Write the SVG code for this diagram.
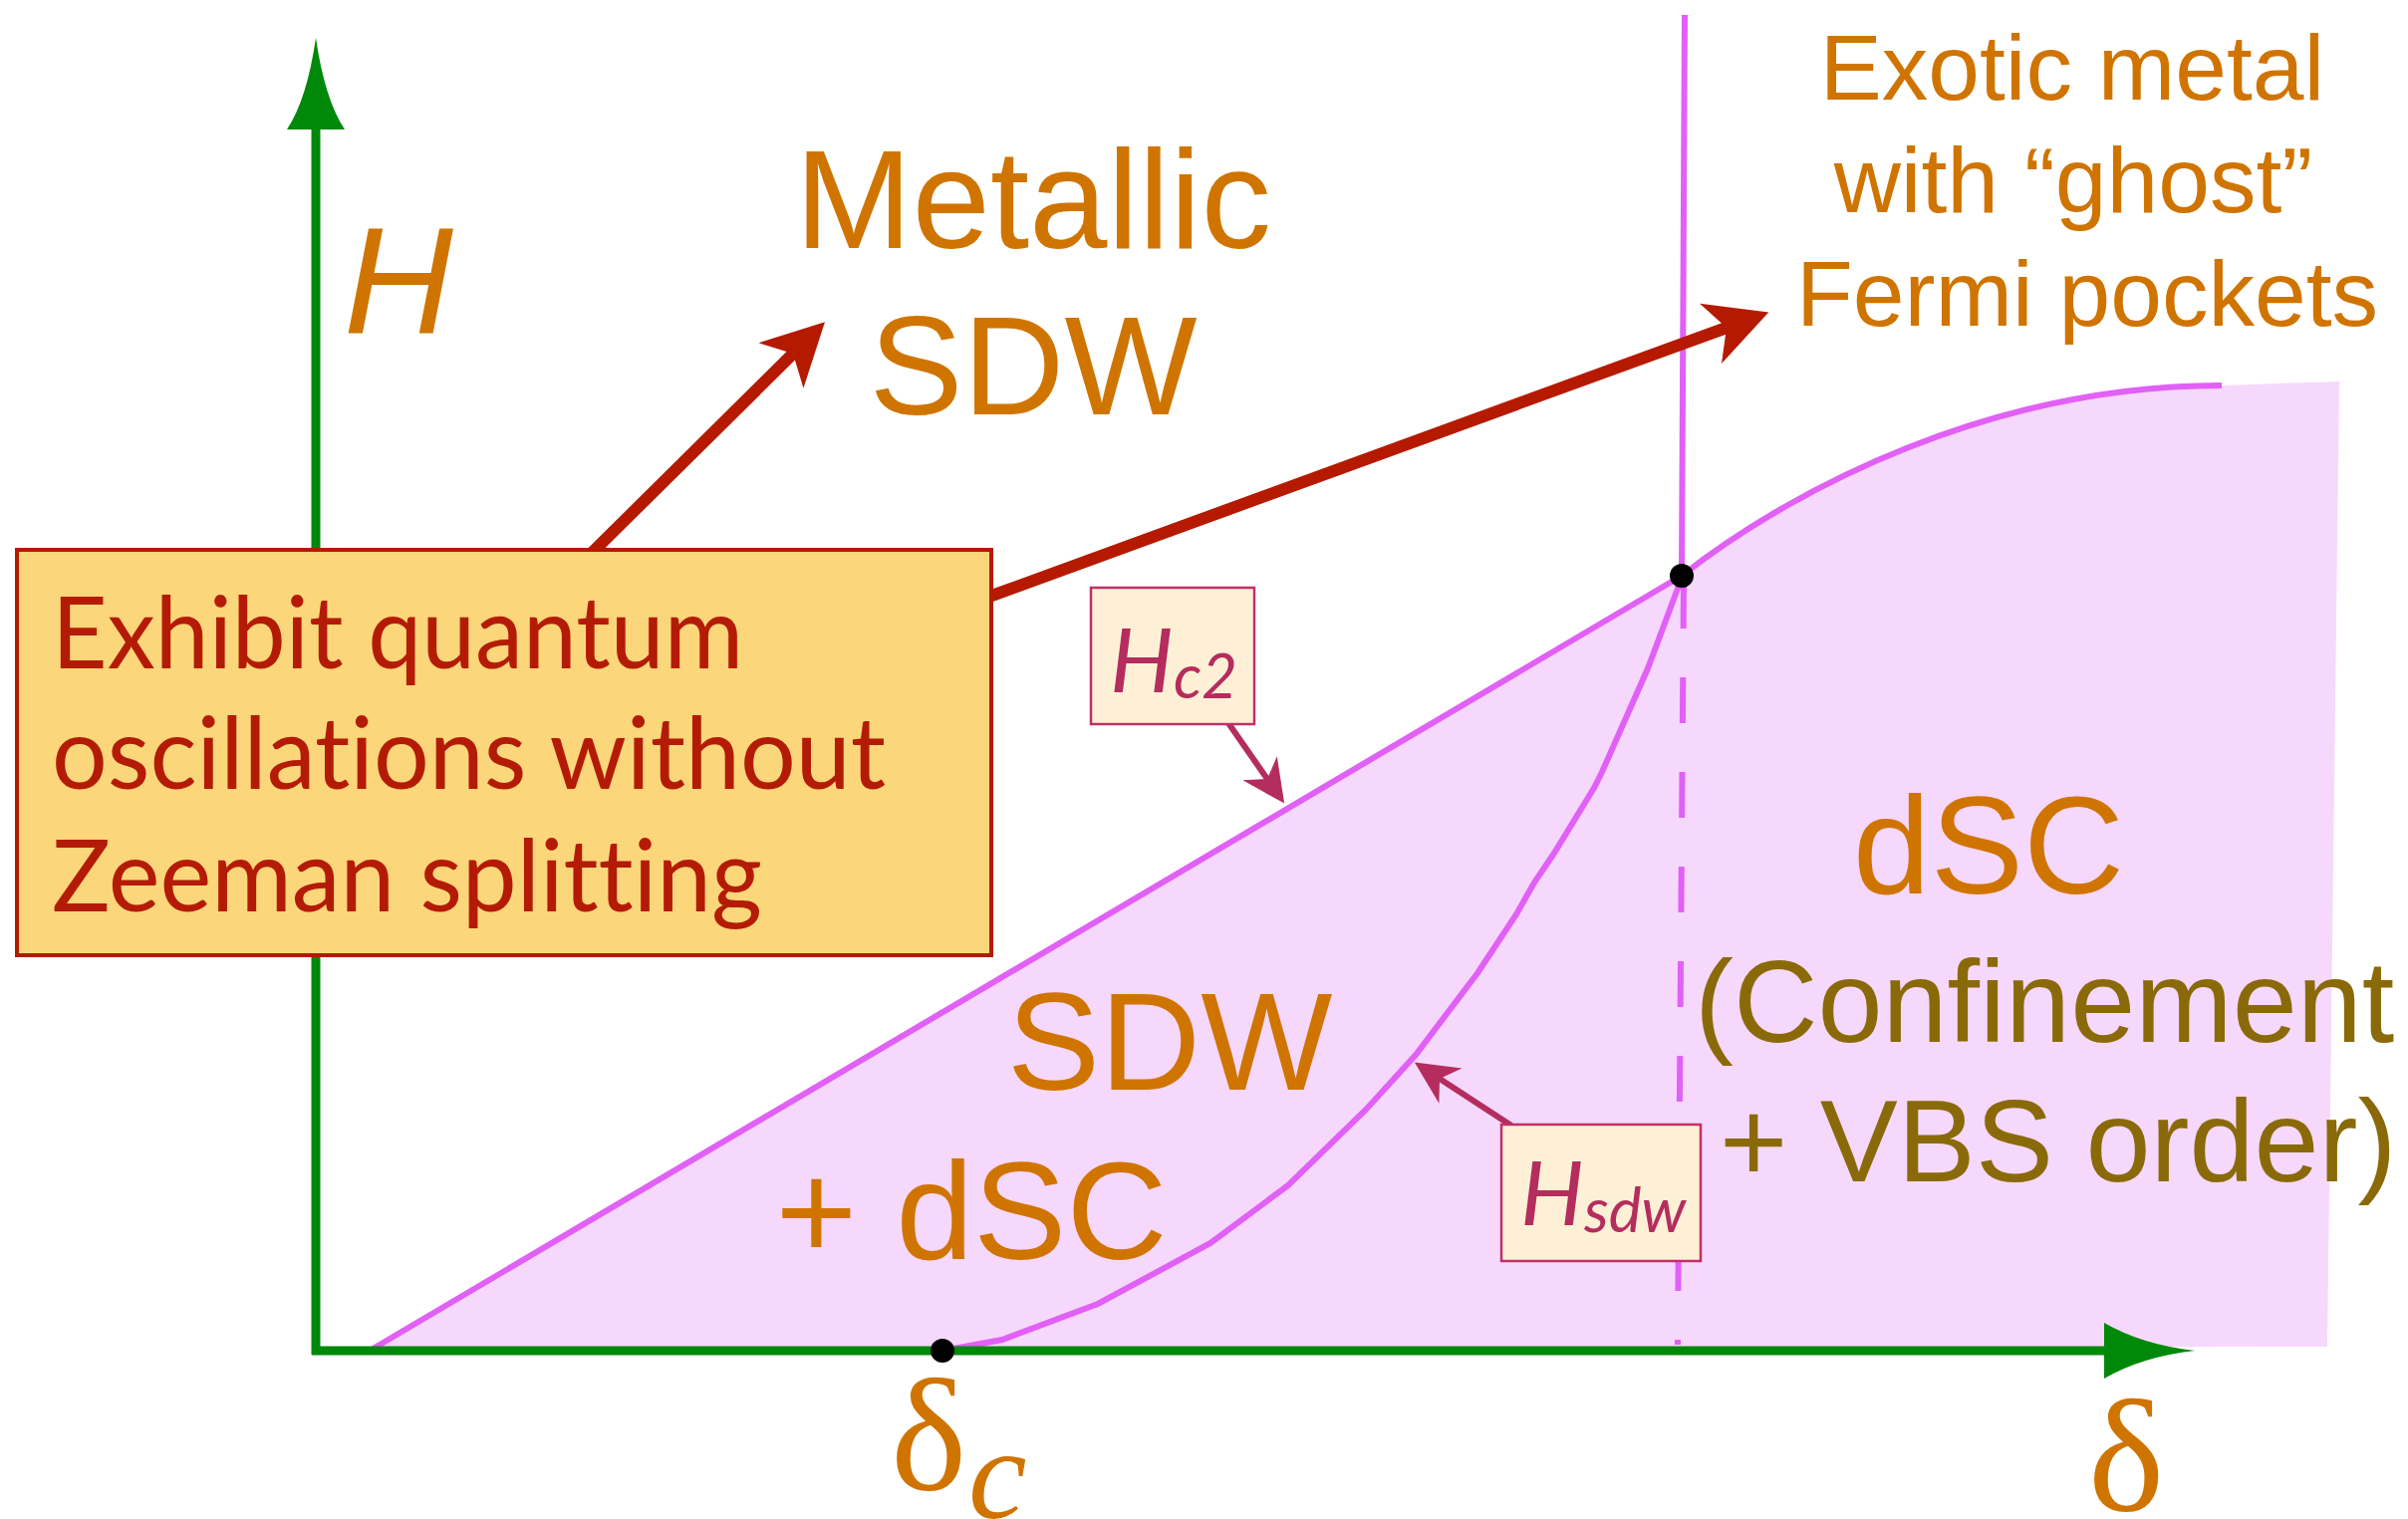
<svg xmlns="http://www.w3.org/2000/svg" width="2417" height="1525" viewBox="0 0 2417 1525">
<style>
.lbl{font-family:"Liberation Sans",Arial,sans-serif;fill:#D07400}
.olive{font-family:"Liberation Sans",Arial,sans-serif;fill:#8A6A08}
.gill{font-family:Lato,"Open Sans",sans-serif;fill:#B41B07;font-variant-ligatures:none}
.hl{font-family:Lato,"Open Sans",sans-serif;font-style:italic;fill:#B42D5E;font-variant-ligatures:none}
.pink{fill:none;stroke:#E160F6;stroke-width:6}
.axis{stroke:#00880A;stroke-width:9;fill:none}
.red{stroke:#B51A00;stroke-width:12;fill:none}
.rasp{stroke:#B42D5E;stroke-width:6;fill:none}
.dot{fill:#000}
.greek{font-family:"Liberation Serif","DejaVu Serif",serif;fill:#D07400}
</style>
<defs>
<marker id="redHead" markerUnits="userSpaceOnUse" viewBox="-20 -40 80 80" markerWidth="80" markerHeight="80" refX="0" refY="0" orient="auto">
<path d="M45,0 L-17,-32 L0,0 L-17,32 Z" fill="#B51A00"/>
</marker>
<marker id="raspHead" markerUnits="userSpaceOnUse" viewBox="-20 -30 60 60" markerWidth="60" markerHeight="60" refX="0" refY="0" orient="auto">
<path d="M30,0 L-13,-21 L0,0 L-13,21 Z" fill="#B42D5E"/>
</marker>
</defs>
<rect width="2417" height="1525" fill="#fff"/>

<g id="regions">
<path d="M371,1356 L1688,578 C1800,490 2000,387 2230,387 L2348,383 L2336,1352 L371,1356 Z" fill="#F6D8FC"/>
</g>

<g id="connectors">
<line class="pink" x1="371" y1="1356" x2="1688" y2="578"/>
<path class="pink" d="M1688,578 C1800,490 2000,387 2230,387" stroke-width="7"/>
<polyline class="pink" points="946,1356 1006,1345 1102,1309 1215,1248 1293,1190 1371,1114 1421,1059 1483,977 1522,918 1540,886 1559,858 1600,791 1608,775 1654,671 1688,580"/>
<line class="pink" x1="1691" y1="15" x2="1688" y2="578"/>
<line class="pink" x1="1690" y1="585" x2="1684" y2="1350" stroke-width="7" stroke-dasharray="46 49"/>
<line class="axis" x1="317" y1="125" x2="317" y2="1360"/>
<line class="axis" x1="313" y1="1356" x2="2115" y2="1356"/>
<path d="M288,130 Q308,100 317,38 Q326,100 346,130 Z" fill="#00880A"/>
<path d="M2112,1328 Q2150,1350 2203,1356 Q2150,1362 2112,1384 Z" fill="#00880A"/>
<line class="red" x1="590" y1="559" x2="796" y2="355" marker-end="url(#redHead)"/>
<line class="red" x1="990" y1="600" x2="1733" y2="329" marker-end="url(#redHead)"/>
<line class="rasp" x1="1233" y1="726" x2="1272" y2="782" marker-end="url(#raspHead)"/>
<line class="rasp" x1="1517" y1="1130" x2="1445" y2="1083" marker-end="url(#raspHead)"/>
</g>

<g id="points">
<circle class="dot" cx="1688" cy="578" r="12"/>
<circle class="dot" cx="946" cy="1356" r="12"/>
</g>

<g id="box-quantum">
<rect x="17" y="552" width="978" height="407" fill="#FCD67A" stroke="#B51A00" stroke-width="4"/>
<text class="gill" x="52" y="671" font-size="100" textLength="694" lengthAdjust="spacingAndGlyphs">Exhibit quantum</text>
<text class="gill" x="52" y="792" font-size="100" textLength="837" lengthAdjust="spacingAndGlyphs">oscillations without</text>
<text class="gill" x="52" y="915" font-size="100" textLength="713" lengthAdjust="spacingAndGlyphs">Zeeman splitting</text>
</g>

<g id="label-hc2">
<rect x="1095" y="590" width="164" height="137" fill="#FEF0D6" stroke="#C0306A" stroke-width="2.5"/>
<text class="hl" x="1114" y="695" font-size="90">H<tspan font-size="62" dy="6">c2</tspan></text>
</g>

<g id="label-hsdw">
<rect x="1507" y="1129" width="200" height="137" fill="#FEF0D6" stroke="#C0306A" stroke-width="2.5"/>
<text class="hl" x="1526" y="1230" font-size="90">H<tspan font-size="62" dy="7">sdw</tspan></text>
</g>

<g id="axis-labels">
<text class="lbl" x="345" y="335" font-size="152" font-style="italic">H</text>
<text class="greek" x="894" y="1495" font-size="162">δ</text>
<text class="greek" x="972" y="1524" font-size="132" font-style="italic">c</text>
<text class="greek" x="2096" y="1516" font-size="162">δ</text>
</g>

<g id="phase-metallic-sdw">
<text class="lbl" x="1037" y="249" font-size="141" text-anchor="middle">Metallic</text>
<text class="lbl" x="1037" y="416" font-size="141" text-anchor="middle">SDW</text>
</g>

<g id="phase-exotic-metal">
<text class="lbl" x="2080" y="100" font-size="93" text-anchor="middle">Exotic metal</text>
<text class="lbl" x="2081" y="213" font-size="93" text-anchor="middle">with “ghost”</text>
<text class="lbl" x="2095" y="327" font-size="93" text-anchor="middle">Fermi pockets</text>
</g>

<g id="phase-sdw-dsc">
<text class="lbl" x="1174" y="1094" font-size="140" text-anchor="middle">SDW</text>
<text class="lbl" x="975" y="1264" font-size="140" text-anchor="middle">+ dSC</text>
</g>

<g id="phase-dsc">
<text class="lbl" x="1996" y="897" font-size="140" text-anchor="middle">dSC</text>
<text class="olive" x="1701" y="1046" font-size="117">(Confinement</text>
<text class="olive" x="1726" y="1186" font-size="117">+ VBS order)</text>
</g>
</svg>
